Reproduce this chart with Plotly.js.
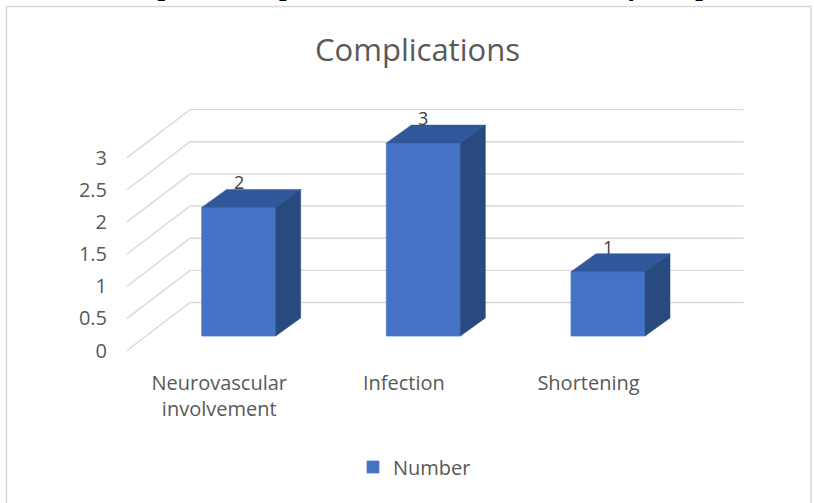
<!DOCTYPE html>
<html>
<head>
<meta charset="utf-8">
<script src="https://cdn.plot.ly/plotly-3.0.1.min.js"></script>
<style>html,body{margin:0;padding:0;background:#fff;}#chart{width:814px;height:503px;}</style>
</head>
<body>
<div id="chart"></div>
<script>
// ---- data ----
const categories = ['Neurovascular involvement', 'Infection', 'Shortening'];
const tickLabels = ['Neurovascular<br>involvement', 'Infection', 'Shortening'];
const values = [2, 3, 1];
const seriesName = 'Number';
const yTicks = [0, 0.5, 1, 1.5, 2, 2.5, 3];
const yTickText = ['0', '0.5', '1', '1.5', '2', '2.5', '3'];
const chartTitle = 'Complications';
const caption = 'Graph 4: Complications observed in the study sample';

// ---- geometry (axis units) ----
const L = 118, R = 760, T = 90, B = 365;
const PW = R - L, PH = B - T;
const xr = [-0.6537, 2.8232];
const yr = [-0.4510, 3.8258];
const barW = 0.4008, dX = 0.1354, dY = 0.2799;
const backX0 = -0.2637, backX1 = 2.7338, backDy = 0.521;
const frontX = -0.6049, frontDy = -0.2255;
const labelShift = 0.1056;

const xIdx = categories.map((c, i) => i);

const traces = [];
traces.push({
  type: 'bar', x: xIdx, y: values, width: barW, name: seriesName,
  marker: {color: '#4472C4', line: {color: '#4f7dcc', width: 0.8}},
  hoverinfo: 'skip', showlegend: true
});
// top faces and side faces
values.forEach((v, i) => {
  const xl = i - barW / 2, xrr = i + barW / 2;
  traces.push({
    type: 'scatter', mode: 'lines', fill: 'toself', fillcolor: '#30589a',
    line: {color: '#30589a', width: 0.5},
    x: [xl, xrr, xrr + dX, xl + dX, xl], y: [v, v, v + dY, v + dY, v],
    hoverinfo: 'skip', showlegend: false
  });
  traces.push({
    type: 'scatter', mode: 'lines', fill: 'toself', fillcolor: '#294a7f',
    line: {color: '#294a7f', width: 0.5},
    x: [xrr, xrr, xrr + dX, xrr + dX, xrr], y: [0, v, v + dY, dY, 0],
    hoverinfo: 'skip', showlegend: false
  });
});
// carrier for label axes
traces.push({
  type: 'scatter', mode: 'markers', x: xIdx, y: values.map(() => 0),
  xaxis: 'x2', yaxis: 'y2', marker: {opacity: 0}, hoverinfo: 'skip', showlegend: false
});

const shapes = yTicks.map(g => ({
  type: 'path', xref: 'x', yref: 'y', layer: 'below',
  path: `M ${frontX},${g + frontDy} L ${backX0},${g + backDy} L ${backX1},${g + backDy}`,
  line: {color: '#d9d9d9', width: 1.4}
}));
// outer frame
shapes.push({
  type: 'rect', xref: 'paper', yref: 'paper', layer: 'below',
  x0: (6.5 - L) / PW, x1: (811 - L) / PW, y0: (B - 520) / PH, y1: (B - 6.5) / PH,
  line: {color: '#d9d9d9', width: 1.5}, fillcolor: 'rgba(0,0,0,0)'
});

const annotations = values.map((v, i) => ({
  xref: 'x', yref: 'y', x: i, y: v + dY, yshift: 7, text: String(v),
  showarrow: false, xanchor: 'center', yanchor: 'middle',
  font: {family: 'Open Sans', size: 18, color: '#404040'}
}));
annotations.push({
  xref: 'paper', yref: 'paper', x: (420 - L) / PW, y: (B + 13.5) / PH,
  text: '<b>' + caption + '</b>', showarrow: false, xanchor: 'center', yanchor: 'middle',
  font: {family: 'Liberation Serif', size: 27, color: '#000'}
});

const tickFont = {family: 'Open Sans', size: 20, color: '#595959'};
const layout = {
  width: 814, height: 503,
  margin: {l: L, r: 814 - R, t: T, b: 503 - B, pad: 0},
  paper_bgcolor: '#fff', plot_bgcolor: 'rgba(0,0,0,0)',
  title: {text: chartTitle, font: {family: 'Open Sans', size: 31, color: '#595959'},
          x: 417.5 / 814, xanchor: 'center', y: 1 - 50 / 503, yanchor: 'middle', xref: 'container', yref: 'container'},
  xaxis: {range: xr, showgrid: false, zeroline: false, showticklabels: false, showline: false, ticks: ''},
  yaxis: {range: yr, showgrid: false, zeroline: false, showticklabels: false, showline: false, ticks: ''},
  xaxis2: {overlaying: 'x', side: 'bottom', range: [xr[0] + labelShift, xr[1] + labelShift],
           tickmode: 'array', tickvals: xIdx, ticktext: tickLabels, tickfont: tickFont,
           showgrid: false, zeroline: false, showline: false, ticks: '', ticklabelstandoff: 4},
  yaxis2: {overlaying: 'y', side: 'left', range: [yr[0] - frontDy, yr[1] - frontDy],
           tickmode: 'array', tickvals: yTicks, ticktext: yTickText, tickfont: tickFont,
           showgrid: false, zeroline: false, showline: false, ticks: '', ticklabelstandoff: 10},
  showlegend: true,
  legend: {orientation: 'h', x: (353 - L) / PW, xanchor: 'left', y: (B - 467) / PH, yanchor: 'middle',
           font: tickFont, bgcolor: 'rgba(0,0,0,0)'},
  shapes: shapes, annotations: annotations, bargap: 0
};
Plotly.newPlot('chart', traces, layout, {displayModeBar: false, staticPlot: true});
</script>
</body>
</html>
